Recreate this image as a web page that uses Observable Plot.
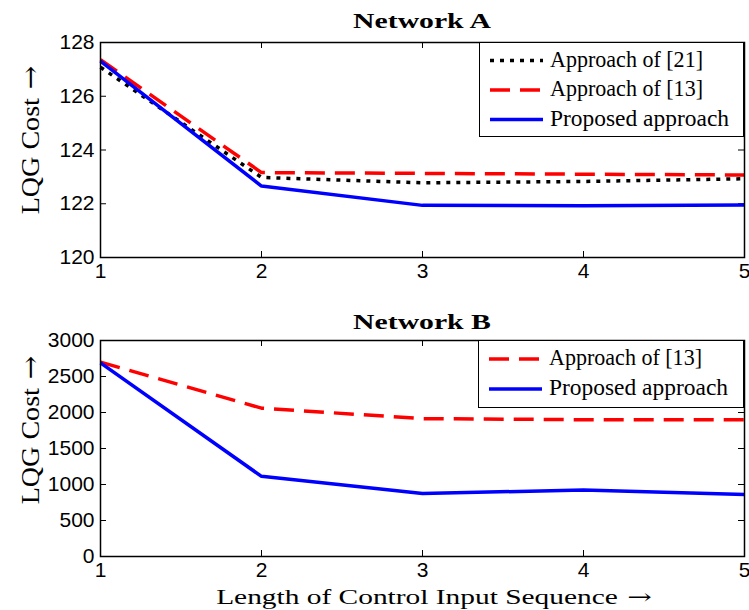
<!DOCTYPE html>
<html><head><meta charset="utf-8">
<script src="https://cdn.jsdelivr.net/npm/d3@7"></script>
<script src="https://cdn.jsdelivr.net/npm/@observablehq/plot@0.6"></script>
<style>
body{margin:0;background:#fff}
#wrap{position:relative;width:749px;height:610px;overflow:hidden;background:#fff}
.abs{position:absolute}
.serif{font-family:"Liberation Serif",serif;color:#000;white-space:nowrap;line-height:1}
.arrow{font-family:"DejaVu Serif",serif;font-weight:normal}
.legend{position:absolute;border:1.5px solid #000;background:#fff;box-sizing:border-box}
</style></head><body>
<div id="wrap"></div>
<script>
// ---- data ----
const lengths = [1, 2, 3, 4, 5];
const xTicks = [1, 2, 3, 4, 5];
const yTicksA = [120, 122, 124, 126, 128];
const yTicksB = [0, 500, 1000, 1500, 2000, 2500, 3000];
const approach21A = [127.08, 122.98, 122.78, 122.83, 122.93];
const approach13A = [127.36, 123.16, 123.13, 123.10, 123.07];
const proposedA  = [127.31, 122.66, 121.94, 121.93, 121.95];
const approach13B = [2700, 2060, 1915, 1900, 1900];
const proposedB  = [2690, 1113, 876, 923, 862];
const titles = ["Network A", "Network B"];
const yLabel = "LQG Cost";
const xLabel = "Length of Control Input Sequence";
const arrow = "\u2192";
const names = {a21: "Approach of [21]", a13: "Approach of [13]", prop: "Proposed approach"};
const nameWidths = {a21: 153, a13: 153, prop: 179};

const styles = {
  a21: {stroke: "#000000", strokeWidth: 3.5, strokeDasharray: "4,6"},
  a13: {stroke: "#ff0000", strokeWidth: 3.5, strokeDasharray: "20,10"},
  prop: {stroke: "#0000ff", strokeWidth: 3.5}
};

const rows = vals => lengths.map((x, i) => ({x, y: vals[i]}));

const W = 749, ML = 100, MR = 5;
const tickFont = {fontSize: 21, fontFamily: "'Liberation Sans', Arial, sans-serif", fill: "black"};
function panel({yDomain, yTicks, series, height, marginTop, marginBottom}) {
  const innerH = height - marginTop - marginBottom;
  const innerW = W - ML - MR;
  const tk = 6;
  const marks = [
    Plot.tickX(xTicks, {x: d => d, insetTop: innerH - tk, stroke: "black", strokeWidth: 1}),
    Plot.tickX(xTicks, {x: d => d, insetBottom: innerH - tk, stroke: "black", strokeWidth: 1}),
    Plot.tickY(yTicks, {y: d => d, insetRight: innerW - tk, stroke: "black", strokeWidth: 1}),
    Plot.tickY(yTicks, {y: d => d, insetLeft: innerW - tk, stroke: "black", strokeWidth: 1}),
    ...series.map(([key, vals]) => Plot.line(rows(vals), {x: "x", y: "y", ...styles[key], strokeLinecap: "butt", strokeLinejoin: "miter"})),
    Plot.frame({stroke: "black", strokeWidth: 1.5}),
    Plot.axisX({ticks: xTicks, tickSize: 0, tickPadding: 6, label: null, tickFormat: d => String(d), ...tickFont}),
    Plot.axisY({ticks: yTicks, tickSize: 0, tickPadding: 6, label: null, tickFormat: d => String(d), ...tickFont})
  ];
  return Plot.plot({
    width: W, height, marginLeft: ML, marginRight: MR, marginTop, marginBottom,
    x: {domain: [1, 5]}, y: {domain: yDomain},
    style: {background: "transparent", color: "black", fontFamily: "'Liberation Sans', Arial, sans-serif", fontSize: "21px"},
    marks
  });
}

const wrap = document.getElementById("wrap");
function place(el, top) { el.style.position = "absolute"; el.style.left = "0px"; el.style.top = top + "px"; wrap.appendChild(el); }

place(panel({yDomain: [120, 128], yTicks: yTicksA, series: [["a21", approach21A], ["a13", approach13A], ["prop", proposedA]], height: 290, marginTop: 42, marginBottom: 33}), 0);
place(panel({yDomain: [0, 3000], yTicks: yTicksB, series: [["a13", approach13B], ["prop", proposedB]], height: 290, marginTop: 40, marginBottom: 34}), 300);

function text(str, {cx, top, size, bold = false, rotate = 0, sx = 1, withArrow = false}) {
  const d = document.createElement("div");
  d.className = "serif abs";
  d.appendChild(document.createTextNode(str));
  if (withArrow) {
    const s = document.createElement("span");
    s.className = "arrow";
    s.textContent = " " + arrow;
    d.appendChild(s);
  }
  d.style.fontSize = size + "px";
  if (bold) d.style.fontWeight = "bold";
  d.style.left = cx + "px";
  d.style.top = top + "px";
  d.style.transform = `translate(-50%,-50%) rotate(${rotate}deg) scaleX(${sx})`;
  wrap.appendChild(d);
}
text(titles[0], {cx: 422, top: 21, size: 22, bold: true, sx: 1.35});
text(titles[1], {cx: 422, top: 322, size: 22, bold: true, sx: 1.35});
text(yLabel, {cx: 30, top: 140, size: 26, rotate: -90, sx: 1.08, withArrow: true});
text(yLabel, {cx: 30, top: 430, size: 26, rotate: -90, sx: 1.08, withArrow: true});
text(xLabel, {cx: 434, top: 597, size: 21, sx: 1.4, withArrow: true});

function legend(keys, {left, top, width, height, ys}) {
  const box = document.createElement("div");
  box.className = "legend";
  Object.assign(box.style, {left: left + "px", top: top + "px", width: width + "px", height: height + "px"});
  const ns = "http://www.w3.org/2000/svg";
  const svg = document.createElementNS(ns, "svg");
  svg.setAttribute("width", width); svg.setAttribute("height", height);
  svg.style.position = "absolute"; svg.style.left = "-1.5px"; svg.style.top = "-1.5px";
  keys.forEach((k, i) => {
    const ln = document.createElementNS(ns, "line");
    ln.setAttribute("x1", 11); ln.setAttribute("x2", 64);
    ln.setAttribute("y1", ys[i]); ln.setAttribute("y2", ys[i]);
    const s = styles[k];
    ln.setAttribute("stroke", s.stroke); ln.setAttribute("stroke-width", s.strokeWidth);
    if (s.strokeDasharray) ln.setAttribute("stroke-dasharray", s.strokeDasharray);
    svg.appendChild(ln);
    const t = document.createElementNS(ns, "text");
    t.setAttribute("x", 71); t.setAttribute("y", ys[i] + 6);
    t.setAttribute("font-family", "'Liberation Serif', serif");
    t.setAttribute("font-size", 22.5);
    t.setAttribute("textLength", nameWidths[k]);
    t.setAttribute("lengthAdjust", "spacingAndGlyphs");
    t.textContent = names[k];
    svg.appendChild(t);
  });
  box.appendChild(svg);
  wrap.appendChild(box);
}
legend(["a21", "a13", "prop"], {left: 479, top: 42, width: 265, height: 95, ys: [18.5, 48, 77.5]});
legend(["a13", "prop"], {left: 478, top: 340, width: 266, height: 68, ys: [19, 49]});
</script>
</body></html>
